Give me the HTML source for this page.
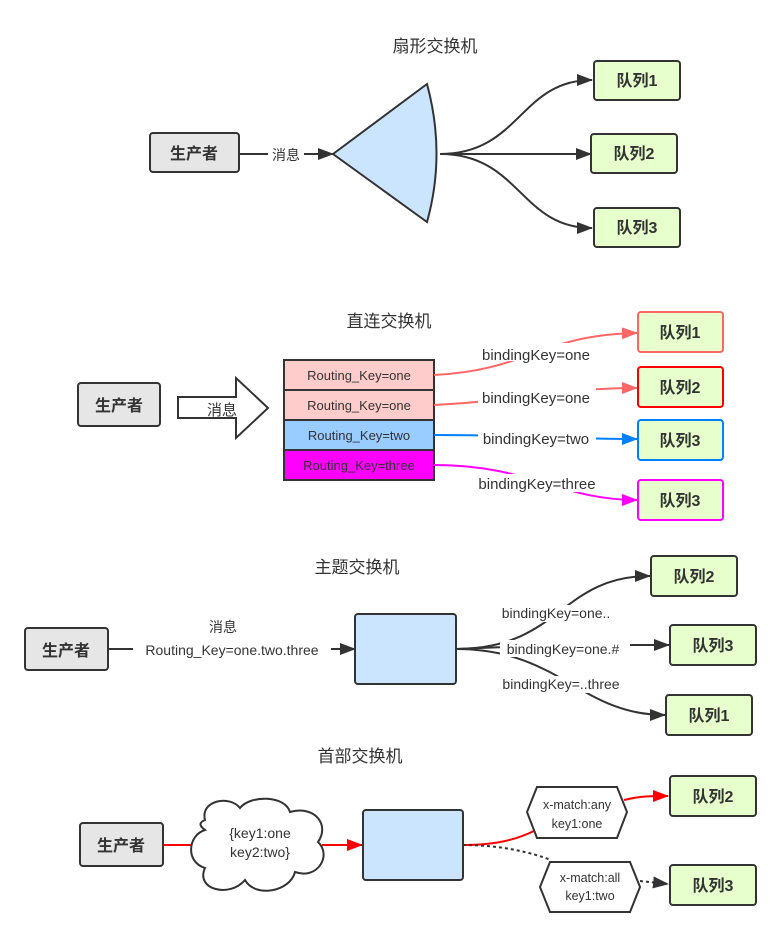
<!DOCTYPE html>
<html><head><meta charset="utf-8"><style>
html,body{margin:0;padding:0;background:#fff;}
svg text{font-family:"Liberation Sans","Noto Sans CJK SC",sans-serif;fill:#333;}
</style></head><body>
<svg width="781" height="934" viewBox="0 0 781 934" xmlns="http://www.w3.org/2000/svg">
<defs>
<marker id="ad" markerWidth="10" markerHeight="10" refX="9" refY="5" orient="auto" markerUnits="userSpaceOnUse"><path d="M0,0 L10,5 L0,10 Z" fill="#333"/></marker>
<marker id="ar1" markerWidth="16" markerHeight="12" refX="15" refY="6" orient="auto" markerUnits="userSpaceOnUse"><path d="M0,0 L16,6 L0,12 Z" fill="#ff6666"/></marker>
<marker id="ab" markerWidth="16" markerHeight="12" refX="15" refY="6" orient="auto" markerUnits="userSpaceOnUse"><path d="M0,0 L16,6 L0,12 Z" fill="#007fff"/></marker>
<marker id="am" markerWidth="16" markerHeight="12" refX="15" refY="6" orient="auto" markerUnits="userSpaceOnUse"><path d="M0,0 L16,6 L0,12 Z" fill="#ff00ff"/></marker>
<marker id="ar" markerWidth="16" markerHeight="12" refX="15" refY="6" orient="auto" markerUnits="userSpaceOnUse"><path d="M0,0 L16,6 L0,12 Z" fill="#ff0000"/></marker>
<marker id="ad2" markerWidth="16" markerHeight="12" refX="15" refY="6" orient="auto" markerUnits="userSpaceOnUse"><path d="M0,0 L16,6 L0,12 Z" fill="#333"/></marker>
</defs>
<g font-size="17" text-anchor="middle">
<!-- section 1 -->
<text x="435" y="52" font-size="17">扇形交换机</text>
<rect x="150" y="133" width="89" height="39" rx="3" fill="#e6e6e6" stroke="#333" stroke-width="2"/>
<text x="194" y="159" font-size="16" font-weight="bold">生产者</text>
<line x1="239" y1="154" x2="333" y2="154" stroke="#333" stroke-width="2" marker-end="url(#ad2)"/>
<rect x="268" y="145" width="36" height="18" fill="#fff"/>
<text x="286" y="160" font-size="14">消息</text>
<path d="M333,154 L427,84 Q446,154 427,222 Z" fill="#cce5ff" stroke="#333" stroke-width="2"/>
<path d="M440,154 C520,154 520,80 592,80" fill="none" stroke="#333" stroke-width="2" marker-end="url(#ad2)"/>
<line x1="440" y1="154" x2="591" y2="154" stroke="#333" stroke-width="2" marker-end="url(#ad2)"/>
<path d="M440,154 C520,154 520,228 592,228" fill="none" stroke="#333" stroke-width="2" marker-end="url(#ad2)"/>
<g font-size="16" font-weight="bold">
<rect x="594" y="61" width="86" height="39" rx="3" fill="#e6ffcc" stroke="#333" stroke-width="2"/><text x="637" y="86">队列1</text>
<rect x="591" y="134" width="86" height="39" rx="3" fill="#e6ffcc" stroke="#333" stroke-width="2"/><text x="634" y="159">队列2</text>
<rect x="594" y="208" width="86" height="39" rx="3" fill="#e6ffcc" stroke="#333" stroke-width="2"/><text x="637" y="233">队列3</text>
</g>
<!-- section 2 -->
<text x="389" y="327">直连交换机</text>
<rect x="78" y="383" width="82" height="43" rx="3" fill="#e6e6e6" stroke="#333" stroke-width="2"/>
<text x="119" y="411" font-size="16" font-weight="bold">生产者</text>
<path d="M178,397 L236,397 L236,378 L268,408 L236,438 L236,418 L178,418 Z" fill="#fff" stroke="#333" stroke-width="2"/>
<text x="222" y="415" font-size="15">消息</text>
<g font-size="13">
<rect x="284" y="360" width="150" height="30" fill="#ffcccc" stroke="#333" stroke-width="2"/><text x="359" y="380">Routing_Key=one</text>
<rect x="284" y="390" width="150" height="30" fill="#ffcccc" stroke="#333" stroke-width="2"/><text x="359" y="410">Routing_Key=one</text>
<rect x="284" y="420" width="150" height="30" fill="#99ccff" stroke="#333" stroke-width="2"/><text x="359" y="440">Routing_Key=two</text>
<rect x="284" y="450" width="150" height="30" fill="#ff00ff" stroke="#333" stroke-width="2"/><text x="359" y="470">Routing_Key=three</text>
</g>
<path d="M434,375 C530,370 540,335 637,333" fill="none" stroke="#ff6666" stroke-width="2" marker-end="url(#ar1)"/>
<path d="M434,405 C530,400 560,388 637,388" fill="none" stroke="#ff6666" stroke-width="2" marker-end="url(#ar1)"/>
<path d="M434,435 C530,435 560,439 637,439" fill="none" stroke="#007fff" stroke-width="2" marker-end="url(#ab)"/>
<path d="M434,465 C530,465 560,500 637,500" fill="none" stroke="#ff00ff" stroke-width="2" marker-end="url(#am)"/>
<g font-size="15">
<rect x="478" y="343" width="118" height="18" fill="#fff"/><text x="536" y="360">bindingKey=one</text>
<rect x="478" y="386" width="118" height="18" fill="#fff"/><text x="536" y="403">bindingKey=one</text>
<rect x="478" y="428" width="118" height="18" fill="#fff"/><text x="536" y="444">bindingKey=two</text>
<rect x="472" y="474" width="130" height="18" fill="#fff"/><text x="537" y="489">bindingKey=three</text>
</g>
<g font-size="16" font-weight="bold">
<rect x="638" y="312" width="85" height="40" rx="3" fill="#e6ffcc" stroke="#ff6666" stroke-width="2"/><text x="680" y="338">队列1</text>
<rect x="638" y="367" width="85" height="40" rx="3" fill="#e6ffcc" stroke="#ff0000" stroke-width="2"/><text x="680" y="393">队列2</text>
<rect x="638" y="420" width="85" height="40" rx="3" fill="#e6ffcc" stroke="#007fff" stroke-width="2"/><text x="680" y="446">队列3</text>
<rect x="638" y="480" width="85" height="40" rx="3" fill="#e6ffcc" stroke="#ff00ff" stroke-width="2"/><text x="680" y="506">队列3</text>
</g>
<!-- section 3 -->
<text x="357" y="573">主题交换机</text>
<rect x="25" y="628" width="83" height="42" rx="3" fill="#e6e6e6" stroke="#333" stroke-width="2"/>
<text x="66" y="656" font-size="16" font-weight="bold">生产者</text>
<line x1="108" y1="649" x2="355" y2="649" stroke="#333" stroke-width="2" marker-end="url(#ad2)"/>
<text x="223" y="632" font-size="14">消息</text>
<rect x="133" y="641" width="198" height="17" fill="#fff"/>
<text x="232" y="655" font-size="14">Routing_Key=one.two.three</text>
<rect x="355" y="614" width="101" height="70" rx="3" fill="#cce5ff" stroke="#333" stroke-width="2"/>
<path d="M456,649 C560,649 560,576 650,576" fill="none" stroke="#333" stroke-width="2" marker-end="url(#ad2)"/>
<path d="M456,649 C550,645 600,645 669,645" fill="none" stroke="#333" stroke-width="2" marker-end="url(#ad2)"/>
<path d="M456,649 C560,649 580,715 665,715" fill="none" stroke="#333" stroke-width="2" marker-end="url(#ad2)"/>
<g font-size="14">
<rect x="492" y="605" width="127" height="17" fill="#fff"/><text x="556" y="618">bindingKey=one..</text>
<rect x="500" y="640" width="130" height="17" fill="#fff"/><text x="563" y="654">bindingKey=one.#</text>
<rect x="494" y="676" width="136" height="17" fill="#fff"/><text x="561" y="689">bindingKey=..three</text>
</g>
<g font-size="16" font-weight="bold">
<rect x="651" y="556" width="86" height="40" rx="3" fill="#e6ffcc" stroke="#333" stroke-width="2"/><text x="694" y="582">队列2</text>
<rect x="670" y="625" width="86" height="40" rx="3" fill="#e6ffcc" stroke="#333" stroke-width="2"/><text x="713" y="651">队列3</text>
<rect x="666" y="695" width="86" height="40" rx="3" fill="#e6ffcc" stroke="#333" stroke-width="2"/><text x="709" y="721">队列1</text>
</g>
<!-- section 4 -->
<text x="360" y="762">首部交换机</text>
<rect x="80" y="823" width="83" height="43" rx="3" fill="#e6e6e6" stroke="#333" stroke-width="2"/>
<text x="121" y="851" font-size="16" font-weight="bold">生产者</text>
<line x1="163" y1="845" x2="196" y2="845" stroke="#ff0000" stroke-width="2"/>
<line x1="322" y1="845" x2="362" y2="845" stroke="#ff0000" stroke-width="2" marker-end="url(#ar)"/>
<path d="M205,820 C200,800 230,795 240,808 C250,795 285,795 290,812 C315,805 330,825 318,842 C332,855 318,880 295,872 C290,892 255,898 245,880 C230,898 195,890 205,868 C185,862 188,835 205,830 C198,825 200,822 205,820 Z" fill="#fff" stroke="#333" stroke-width="2"/>
<text x="260" y="838" font-size="14">{key1:one</text>
<text x="260" y="857" font-size="14">key2:two}</text>
<rect x="363" y="810" width="100" height="70" rx="3" fill="#cce5ff" stroke="#333" stroke-width="2"/>
<path d="M463,845 C500,845 520,838 536,830" fill="none" stroke="#ff0000" stroke-width="2"/>
<path d="M463,845 C500,845 530,852 551,860" fill="none" stroke="#333" stroke-width="2" stroke-dasharray="3,3"/>
<path d="M624,800 C640,796 650,796 668,796" fill="none" stroke="#ff0000" stroke-width="2" marker-end="url(#ar)"/>
<path d="M640,881 L668,884" fill="none" stroke="#333" stroke-width="2" stroke-dasharray="3,3" marker-end="url(#ad2)"/>
<path d="M537,787 L617,787 L627,812 L617,838 L537,838 L527,812 Z" fill="#fff" stroke="#333" stroke-width="2"/>
<text x="577" y="809" font-size="12.5">x-match:any</text>
<text x="577" y="828" font-size="12.5">key1:one</text>
<path d="M550,862 L630,862 L640,887 L630,912 L550,912 L540,887 Z" fill="#fff" stroke="#333" stroke-width="2"/>
<text x="590" y="882" font-size="12.5">x-match:all</text>
<text x="590" y="900" font-size="12.5">key1:two</text>
<g font-size="16" font-weight="bold">
<rect x="670" y="776" width="86" height="40" rx="3" fill="#e6ffcc" stroke="#333" stroke-width="2"/><text x="713" y="802">队列2</text>
<rect x="670" y="865" width="86" height="40" rx="3" fill="#e6ffcc" stroke="#333" stroke-width="2"/><text x="713" y="891">队列3</text>
</g>
</g>
</svg>
</body></html>
